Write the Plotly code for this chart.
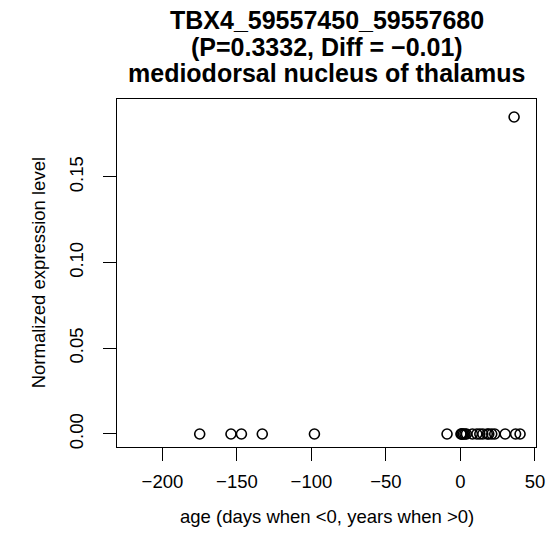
import plotly.graph_objects as go

# Data
ages = [-175, -154, -147, -133, -98, -9,
        0.33, 0.83, 1, 2, 3, 4, 8, 11, 13, 15, 18, 19, 21, 23, 30, 36, 37, 40]
expr = [0, 0, 0, 0, 0, 0,
        0, 0, 0, 0, 0, 0, 0, 0, 0, 0, 0, 0, 0, 0, 0, 0.185, 0, 0]

x_ticks = [-200, -150, -100, -50, 0, 50]
y_ticks = [0.00, 0.05, 0.10, 0.15]

title_lines = ["TBX4_59557450_59557680",
               "(P=0.3332, Diff = \u22120.01)",
               "mediodorsal nucleus of thalamus"]
x_label = "age (days when <0, years when >0)"
y_label = "Normalized expression level"

W, H = 559, 555
L, R, T, B = 116.7, 559 - 535.7, 99, 555 - 446.7
pw, ph = W - L - R, H - T - B

FONT = "Liberation Sans, Arial, Helvetica, sans-serif"
AX = 18.5

fig = go.Figure()
fig.add_trace(go.Scatter(
    x=ages, y=expr, mode="markers",
    marker=dict(symbol="circle-open", size=10, color="black",
                line=dict(width=1.6, color="black")),
    showlegend=False, hoverinfo="x+y"))

def px_x(p):
    return (p - L) / pw

def px_y(p):
    return (H - B - p) / ph

annots = []
for txt, yy in zip(title_lines, [20, 46.7, 73.5]):
    annots.append(dict(text="<b>%s</b>" % txt, x=0.5, y=px_y(yy), xref="paper", yref="paper",
                       xanchor="center", yanchor="middle", showarrow=False,
                       font=dict(family=FONT, size=25, color="black")))
annots.append(dict(text=x_label, x=0.5, y=px_y(516), xref="paper", yref="paper",
                   xanchor="center", yanchor="middle", showarrow=False,
                   font=dict(family=FONT, size=AX, color="black")))
annots.append(dict(text=y_label, x=px_x(38), y=0.5, xref="paper", yref="paper",
                   xanchor="center", yanchor="middle", showarrow=False, textangle=-90,
                   font=dict(family=FONT, size=AX, color="black")))

fig.update_layout(
    width=W, height=H,
    margin=dict(l=L, r=R, t=T, b=B, pad=0),
    paper_bgcolor="white", plot_bgcolor="white",
    font=dict(family=FONT, size=AX, color="black"),
    annotations=annots,
    xaxis=dict(range=[-230.5, 50.7], tickvals=x_ticks, ticks="outside", ticklen=13,
               tickwidth=1.2, tickcolor="black", showline=True, linecolor="black",
               linewidth=1.3, mirror=True, showgrid=False, zeroline=False,
               ticklabelstandoff=5,
               tickfont=dict(family=FONT, size=AX, color="black")),
    yaxis=dict(range=[-0.0076, 0.1955], tickvals=y_ticks, tickformat=".2f",
               ticks="outside", ticklen=13, tickwidth=1.2, tickcolor="black",
               showline=True, linecolor="black", linewidth=1.3, mirror=True,
               showgrid=False, zeroline=False, tickangle=-90,
               ticklabelstandoff=12,
               tickfont=dict(family=FONT, size=AX, color="black")),
)

fig.write_html("out.html", config={"displayModeBar": False},
               post_script="document.body.style.margin='0';document.body.style.padding='0';")
